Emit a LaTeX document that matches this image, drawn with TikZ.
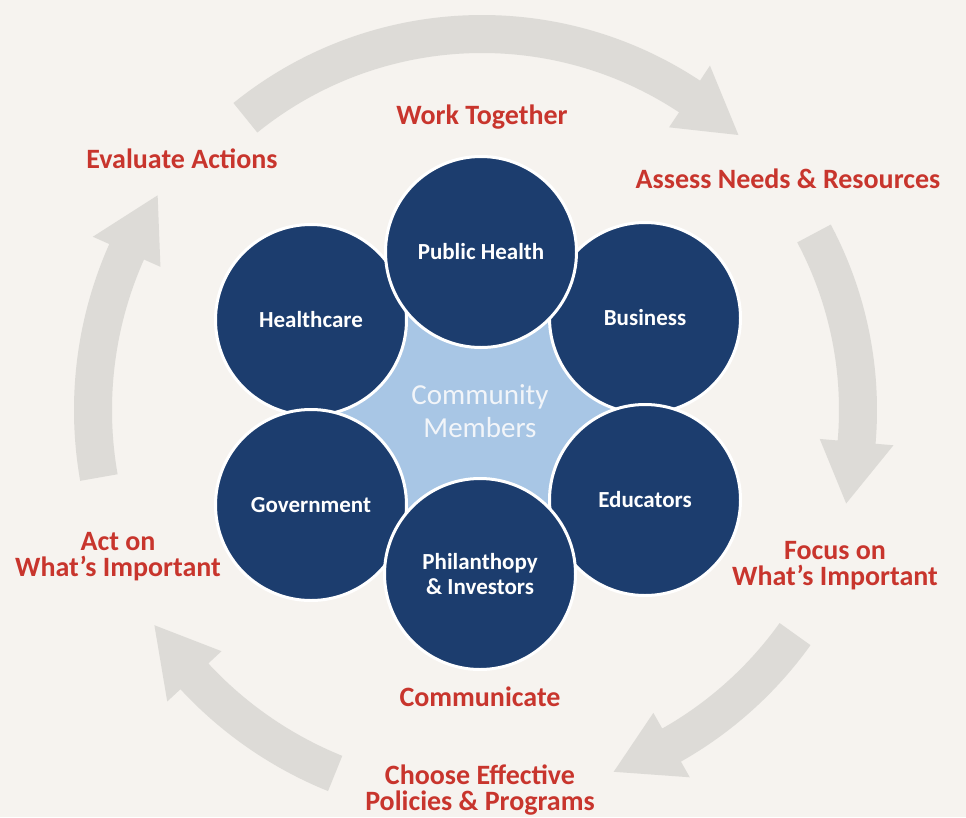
\documentclass[tikz,border=0pt]{standalone}
\usepackage{fontspec}
\setmainfont{Carlito}
\definecolor{bgcol}{HTML}{F6F3EF}
\definecolor{arrowgray}{HTML}{DDDBD7}
\definecolor{navy}{HTML}{1C3D6E}
\definecolor{starblue}{HTML}{A8C6E5}
\definecolor{labelred}{HTML}{C8352D}
\definecolor{cmtext}{HTML}{F2F5F9}
\newcommand{\cyclearrow}[3]{%
  \fill[arrowgray] ({#1}:{#3+19}) arc[start angle={#1}, end angle={#2-9.5}, radius={#3+19}]
    -- ({#2-9.5}:{#3+37}) -- ({#2}:{#3}) -- ({#2-9.5}:{#3-37}) -- ({#2-9.5}:{#3-19})
    arc[start angle={#2-9.5}, end angle={#1}, radius={#3-19}] -- cycle;}
\tikzset{
  sector/.style={circle, fill=navy, draw=white, line width=3pt, minimum size=191pt,
    inner sep=0pt, text=white, font=\fontsize{23}{25}\selectfont\bfseries, align=center},
  steplabel/.style={text=labelred, font=\fontsize{28}{26}\selectfont\bfseries, align=center, inner sep=0pt},
  centerlabel/.style={text=cmtext, font=\fontsize{29}{33}\selectfont, align=center, inner sep=0pt}
}
\begin{document}
\begin{tikzpicture}[x=1pt, y=-1pt]
\fill[bgcol] (0,0) rectangle (966,817);
\useasboundingbox (0,0) rectangle (966,817);
% cycle arrows
\begin{scope}[shift={(482,410)}]
  \cyclearrow{-129}{-47}{376}
  \cyclearrow{-28}{14.4}{376}
  \cyclearrow{35.6}{70}{385}
  \cyclearrow{112}{146.7}{392}
  \cyclearrow{170}{213.5}{389}
\end{scope}
% centres
\coordinate (cHC) at (311,320);
\coordinate (cPH) at (481,252);
\coordinate (cBU) at (645,318);
\coordinate (cED) at (645,500);
\coordinate (cPI) at (480,574);
\coordinate (cGO) at (311,505);
% star
\fill[starblue] (cHC) -- (cPH) -- (cBU) -- (cED) -- (cPI) -- (cGO) -- cycle;
% circles
\node[sector] (HC) at (cHC) {Healthcare};
\node[sector] (GO) at (cGO) {Government};
\node[sector] (BU) at (cBU) {Business};
\node[sector] (ED) at (cED) {Educators};
\node[sector] (PI) at (cPI) {Philanthopy\\\& Investors};
\node[sector] (PH) at (cPH) {Public Health};
\node[centerlabel] (CM) at (480,411) {Community\\Members};
% step labels
\node[steplabel] (WT) at (482,117) {Work Together};
\node[steplabel] (AN) at (788,179) {Assess Needs \& Resources};
\node[steplabel] (FO) at (835,566) {Focus on\\What’s Important};
\node[steplabel] (CO) at (480,697) {Communicate};
\node[steplabel] (CH) at (480,790) {Choose Effective\\Policies \& Programs};
\node[steplabel] (AC) at (118,557) {Act on\\What’s Important};
\node[steplabel] (EV) at (182,159) {Evaluate Actions};
\end{tikzpicture}
\end{document}
